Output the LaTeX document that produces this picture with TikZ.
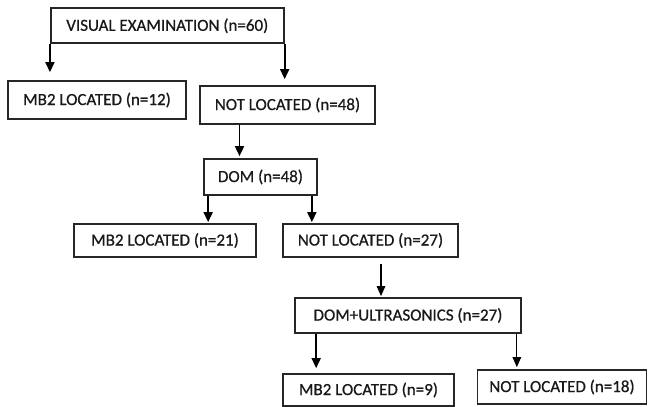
\documentclass[tikz,border=0pt]{standalone}
\usepackage{fontspec}
\setmainfont{Carlito}[BoldFont=Carlito, BoldFeatures={FakeBold=0.7}]
\usetikzlibrary{arrows.meta}
\begin{document}
\begin{tikzpicture}[x=1pt,y=-1pt,
  box/.style={draw=black!85, line width=1.7pt, rectangle, inner sep=0pt,
    font=\fontsize{17}{19}\selectfont\bfseries, text=black!90},
  arr/.style={draw=black, line width=1.7pt, -{Triangle[length=10pt,width=9pt]}},
  thinarr/.style={draw=black, line width=1.1pt, -{Triangle[length=10pt,width=8.5pt]}}]
\useasboundingbox (0,0) rectangle (648,407);
\node[box, minimum width=233pt, minimum height=35pt] (vis) at (167.3,25.8) {VISUAL EXAMINATION (n=60)};
\node[box, minimum width=178pt, minimum height=38pt] (mb1) at (97,100) {MB2 LOCATED (n=12)};
\node[box, minimum width=175pt, minimum height=38pt] (nl1) at (287.5,105) {NOT LOCATED (n=48)};
\node[box, minimum width=113pt, minimum height=36pt] (dom) at (260.5,177) {DOM (n=48)};
\node[box, minimum width=182pt, minimum height=33pt] (mb2) at (165,240.5) {MB2 LOCATED (n=21)};
\node[box, minimum width=175pt, minimum height=33pt] (nl2) at (370.5,240.5) {NOT LOCATED (n=27)};
\node[box, minimum width=226pt, minimum height=35pt] (us) at (408,315.5) {DOM+ULTRASONICS (n=27)};
\node[box, minimum width=171pt, minimum height=32pt] (mb3) at (368.5,390) {MB2 LOCATED (n=9)};
\node[box, minimum width=169pt, minimum height=34pt] (nl3) at (562,387) {NOT LOCATED (n=18)};

\draw[arr, shorten >=8pt] (vis.south west) -- (vis.south west |- mb1.north);
\draw[arr, shorten >=6pt] (vis.south east) -- (vis.south east |- nl1.north);
\draw[arr, shorten >=2pt] ([xshift=-48pt]nl1.south) -- ([xshift=-48pt]nl1.south |- dom.north);
\draw[arr, shorten >=1pt] ([xshift=5pt]dom.south west) -- ([xshift=5pt]dom.south west |- mb2.north);
\draw[arr, shorten >=1pt] ([xshift=-6pt]dom.south east) -- ([xshift=-6pt]dom.south east |- nl2.north);
\draw[thinarr, shorten <=6pt, shorten >=1pt] ([xshift=10.5pt]nl2.south) -- ([xshift=10.5pt]nl2.south |- us.north);
\draw[arr, shorten >=5pt] ([xshift=22pt]us.south west) -- ([xshift=22pt]us.south west |- mb3.north);
\draw[thinarr, shorten >=2pt] ([xshift=-5pt]us.south east) -- ([xshift=-5pt]us.south east |- nl3.north);
\end{tikzpicture}
\end{document}
